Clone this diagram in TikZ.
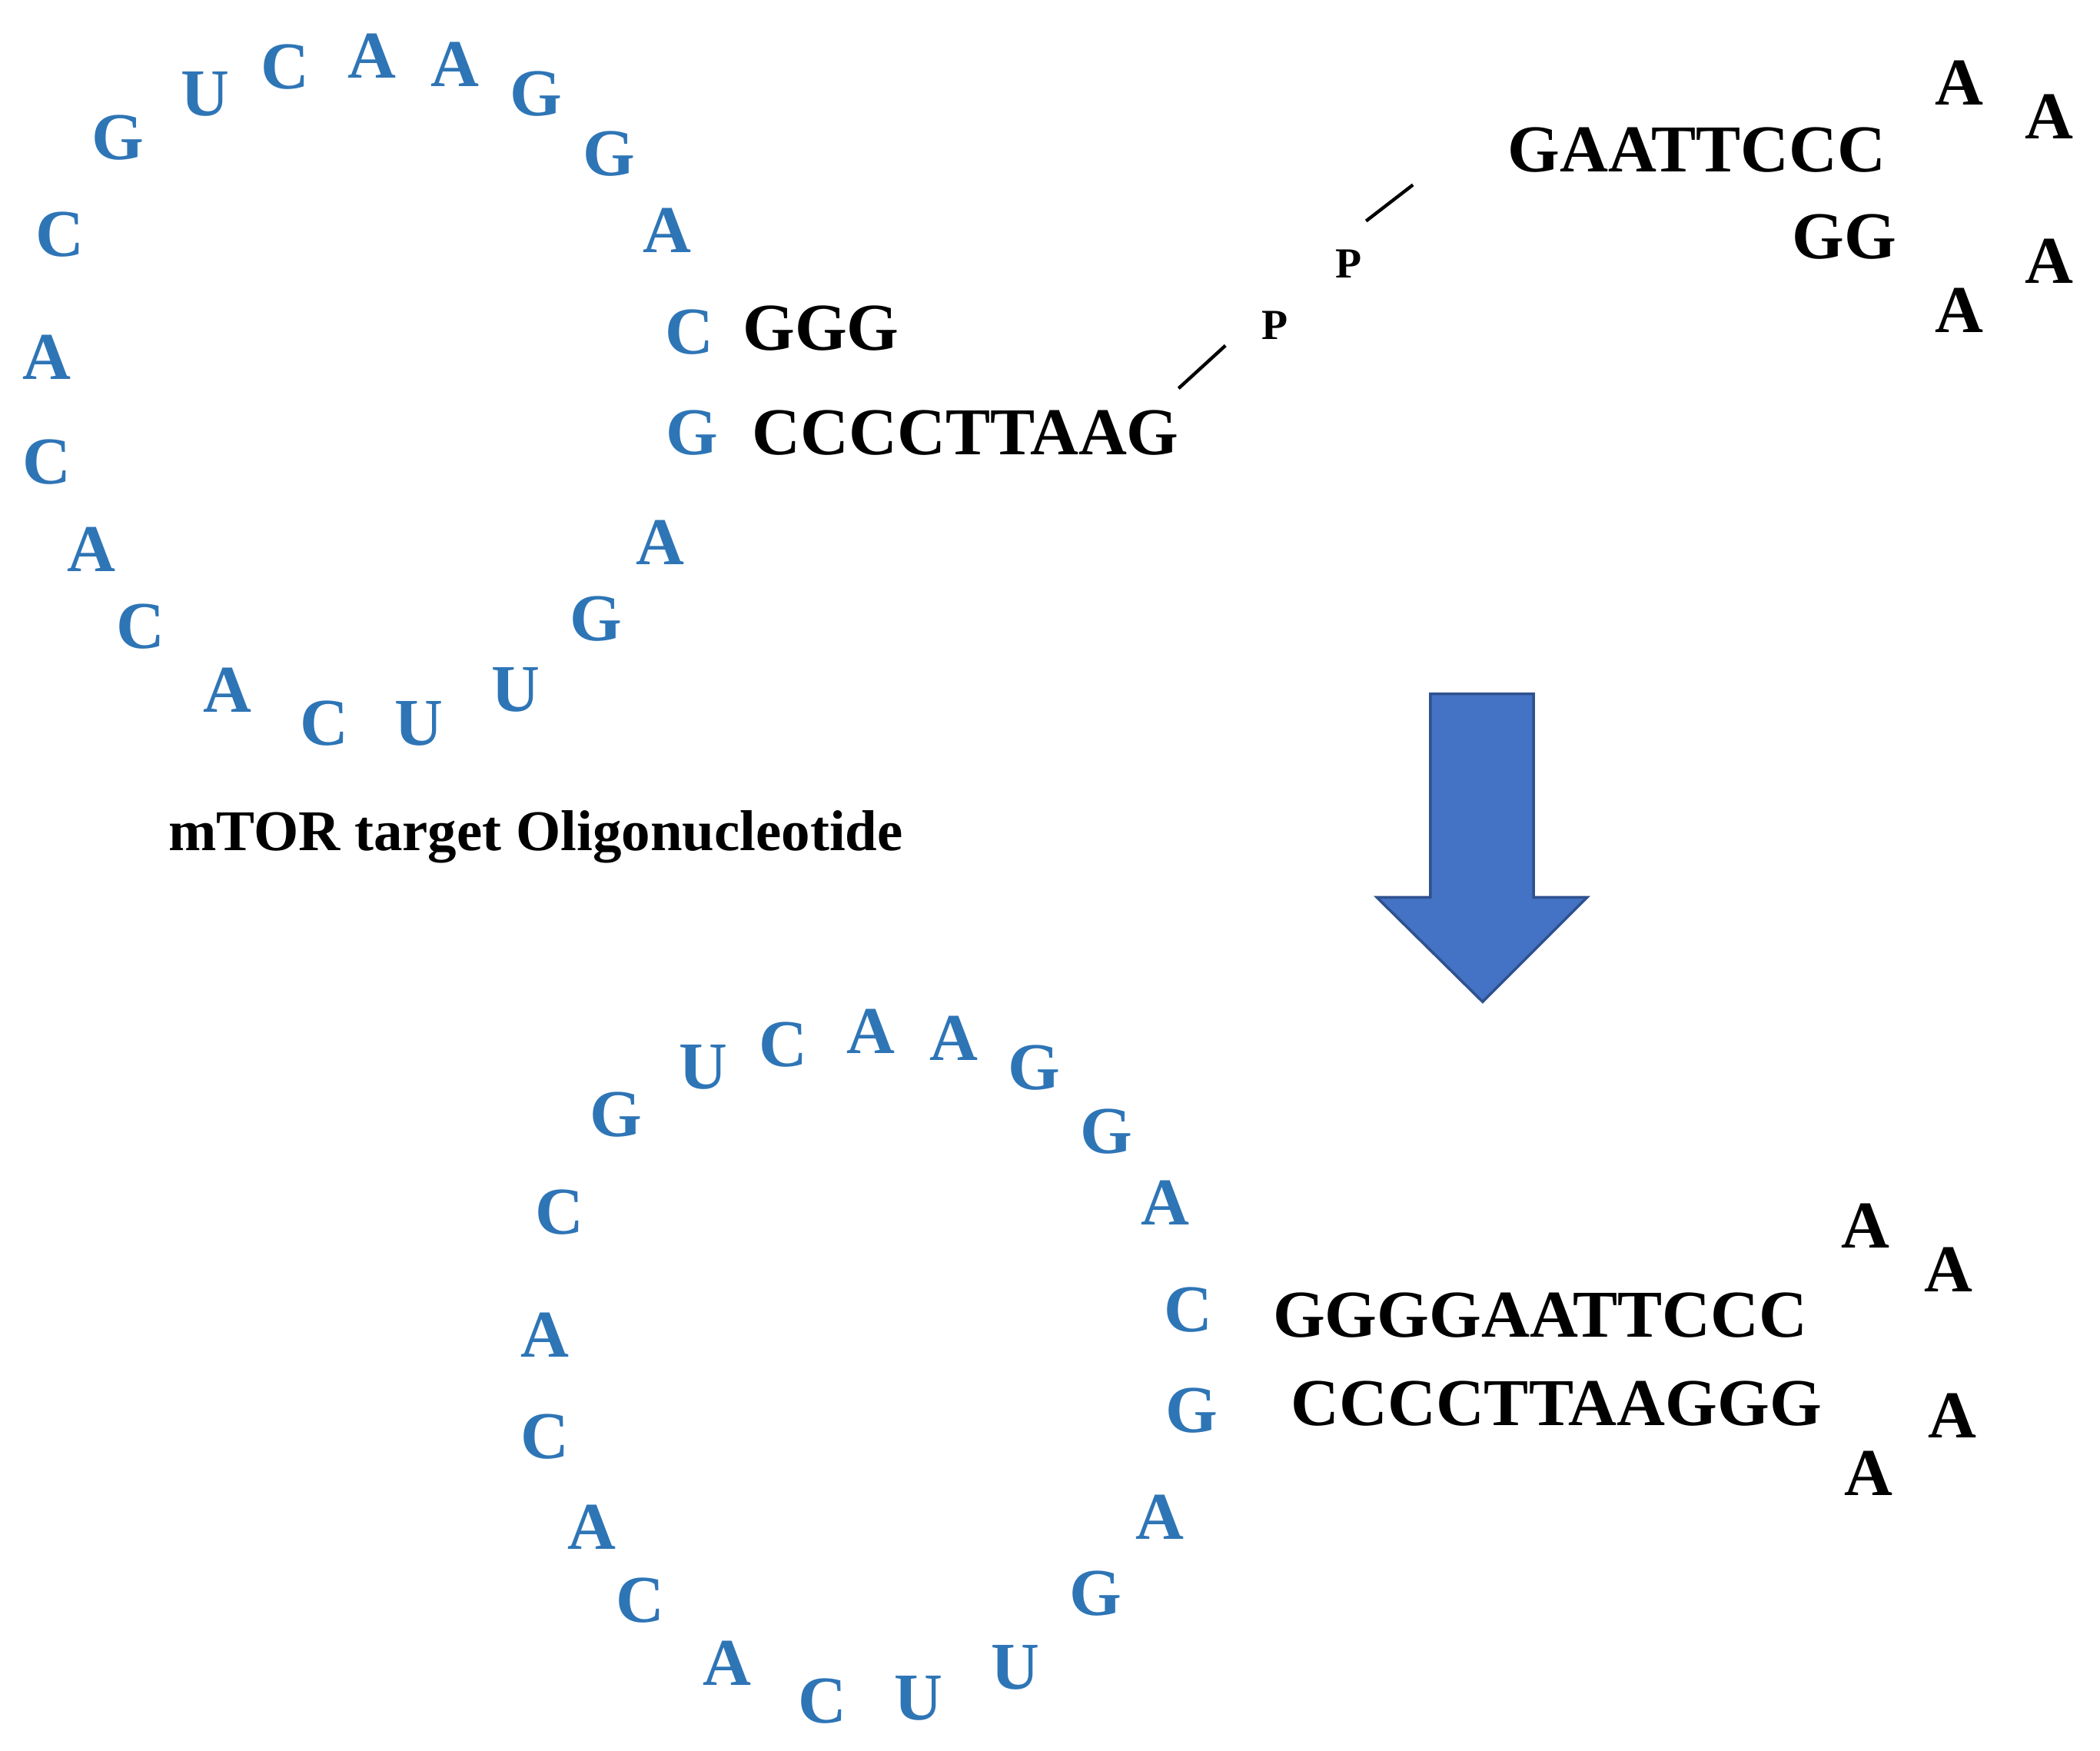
\documentclass[tikz,border=0pt]{standalone}
\usepackage{fontspec}
\setmainfont{Liberation Serif}
\definecolor{nb}{HTML}{2E75B6}
\definecolor{ar}{HTML}{4472C4}
\definecolor{arb}{HTML}{2F528F}
\begin{document}
\begin{tikzpicture}[x=1pt,y=-1pt,
 b/.style={text=nb,font=\fontsize{50}{55}\bfseries\selectfont,inner sep=0},
 k/.style={text=black,font=\fontsize{50}{55}\bfseries\selectfont,inner sep=0},
 p/.style={font=\fontsize{32}{36}\bfseries\selectfont,inner sep=0}]
\useasboundingbox (0,0) rectangle (1568,1307);
% top loop
\foreach \x/\y/\t [count=\i] in {88/103/G,153/70/U,213/50/C,278/42/A,340/48/A,400/70/G,455/115/G,498/172/A,515/248/C,517/323/G,493/405/A,445/462/G,385/515/U,313/540/U,242/540/C,170/515/A,105/468/C,68/410/A,35/345/C,35/267/A,45/175/C}
  \node[b] (t\i) at (\x,\y) {\t};
\node[k] (tg) at (613,245) {GGG};
\node[k] (tc) at (721,323) {CCCCTTAAG};
\node[p] (p1) at (952,243) {P};
\node[p] (p2) at (1007,197) {P};
\coordinate (l1a) at (880,290); \coordinate (l1b) at (915,258);
\coordinate (l2a) at (1020,165); \coordinate (l2b) at (1055,138);
\draw[line width=2.5pt] (l1a) -- (l1b);
\draw[line width=2.5pt] (l2a) -- (l2b);
\node[k] (hg) at (1267,112) {GAATTCCC};
\node[k] (ha1) at (1463,62) {A};
\node[k] (ha2) at (1530,87) {A};
\node[k] (hgg) at (1377,177) {GG};
\node[k] (ha3) at (1530,195) {A};
\node[k] (ha4) at (1463,232) {A};
\node[inner sep=0,font=\fontsize{43}{48}\bfseries\selectfont] (lab) at (400,625) {mTOR target Oligonucleotide};
% arrow
\draw[fill=ar,draw=arb,line width=2pt] (1068,518) -- (1145,518) -- (1145,670) -- (1185,670) -- (1107,748) -- (1028,670) -- (1068,670) -- cycle;
% bottom loop
\foreach \x/\y/\t [count=\i] in {460/832/G,525/797/U,585/780/C,650/770/A,712/775/A,772/797/G,826/845/G,870/898/A,887/978/C,890/1053/G,866/1133/A,818/1190/G,758/1245/U,686/1268/U,614/1270/C,543/1242/A,478/1195/C,442/1140/A,407/1073/C,407/997/A,418/905/C}
  \node[b] (u\i) at (\x,\y) {\t};
\node[k] (bg) at (1150,982) {GGGGAATTCCC};
\node[k] (bc) at (1162,1048) {CCCCTTAAGGG};
\node[k] (ba1) at (1393,915) {A};
\node[k] (ba2) at (1455,948) {A};
\node[k] (ba3) at (1458,1057) {A};
\node[k] (ba4) at (1395,1100) {A};
\end{tikzpicture}
\end{document}
